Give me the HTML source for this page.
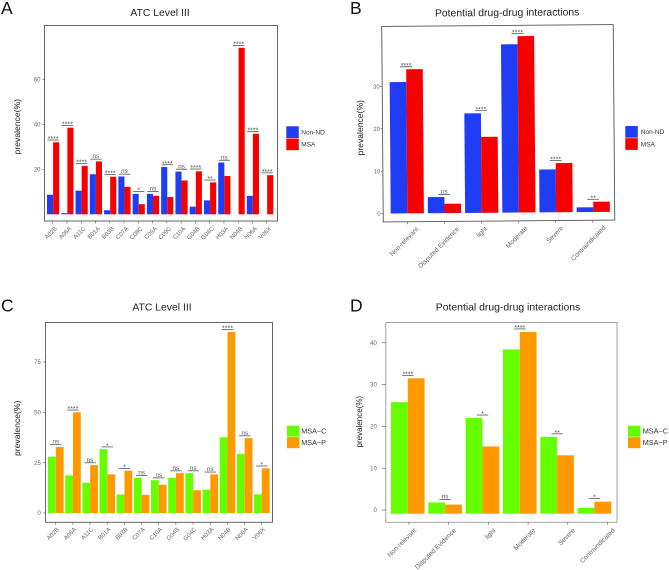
<!DOCTYPE html>
<html>
<head>
<meta charset="utf-8">
<style>
html,body{margin:0;padding:0;background:#fff;}
body{width:669px;height:570px;overflow:hidden;}
svg{display:block;font-family:"Liberation Sans",sans-serif;filter:blur(0.3px);}
</style>
</head>
<body>
<svg id="fig" width="669" height="570" viewBox="0 0 669 570" xmlns="http://www.w3.org/2000/svg"></svg>
<script>
var atcA = ['A02B','A06A','A11C','B01A','B03B','C07A','C08C','C09A','C09C','C10A','G04B','G04C','H03A','N04B','N06A','V06X'];
var nonNdA = [8.7,0.5,10.5,17.8,1.8,16.8,9.1,9.1,21,19,3.4,6.2,23,0,8.2,0];
var msaA = [32,38.5,21.5,23.5,16.7,12.2,4.5,8.2,7.7,15,19.1,14.2,17,74,35.8,17.4];
var sigA = ['****','****','****','ns','****','ns','*','ns','****','ns','****','**','ns','****','****','****'];
var ticksA = [20,40,60];

var ddiB = ['Non-relevant','Disputed Evidence','light','Moderate','Severe','Contraindicated'];
var nonNdB = [31,3.8,23.5,39.7,10.1,1.1];
var msaB = [34,2.2,17.9,41.6,11.6,2.4];
var sigB = ['****','ns','****','****','****','**'];
var ticksB = [0,10,20,30];

var atcC = ['A02B','A06A','A11C','B01A','B03B','C07A','C10A','G04B','G04C','H03A','N04B','N06A','V06X'];
var msaCC = [28,18.7,15,31.7,9.2,17.5,16.3,17.5,19.8,11.6,37.6,29.3,9.3];
var msaPC = [32.8,50,23.8,19.2,21,9,14,19.8,11.3,19.2,90,37.2,22.2];
var sigC = ['ns','****','ns','*','*','ns','ns','ns','ns','ns','****','ns','*'];
var ticksC = [0,25,50,75];

var ddiD = ['Non-relevant','Disputed Evidence','light','Moderate','Severe','Contraindicated'];
var msaCD = [25.8,1.8,22,38.4,17.5,0.5];
var msaPD = [31.5,1.3,15.2,42.6,13.1,2];
var sigD = ['****','ns','*','****','**','*'];
var ticksD = [0,10,20,30,40];

var NS = 'http://www.w3.org/2000/svg';
var fig = document.getElementById('fig');
function mk(parent, tag, attrs, text) {
  var el = document.createElementNS(NS, tag);
  for (var k in attrs) el.setAttribute(k, attrs[k]);
  if (text !== undefined) el.textContent = text;
  parent.appendChild(el);
  return el;
}

function drawPanel(cfg) {
  var g = mk(fig, 'g', cfg.tilt ? {transform: 'rotate(' + cfg.tilt + ' ' + cfg.cx + ' ' + cfg.cy + ')'} : {});
  
  

  function yScale(v) { return cfg.y0 - v * cfg.yUnit; }
  function groupX(i) { return cfg.barStart + i * cfg.barStep; }
  function tickX(i) { return cfg.tickStart + i * cfg.tickStep; }
  var base = yScale(0) + cfg.barDrop;

  var frame = mk(g, 'rect', {x: cfg.left, y: cfg.top, width: cfg.right - cfg.left, height: cfg.bottom - cfg.top, fill: 'none', stroke: cfg.frameColor, 'stroke-width': 0.9});
  
  

  cfg.cats.forEach(function (cat, i) {
    var x = groupX(i);
    var a = cfg.s1[i], b = cfg.s2[i];
    var r1 = mk(g, 'rect', {x: x, y: yScale(a), width: cfg.barW, height: Math.max(0, base - yScale(a)), fill: cfg.c1});
    
    
    var r2 = mk(g, 'rect', {x: x + cfg.barW, y: yScale(b), width: cfg.barW, height: Math.max(0, base - yScale(b)), fill: cfg.c2});
    
    

    var cx = x + cfg.barW;
    var ly = yScale(Math.max(a, b)) - cfg.sigGap;
    var ln = mk(g, 'line', {x1: cx - cfg.sigW, x2: cx + cfg.sigW, y1: ly, y2: ly, stroke: '#555', 'stroke-width': 0.8});
    
    
    var isNs = cfg.sig[i] === 'ns';
    var st = mk(g, 'text', {x: cx, y: isNs ? ly - 1 : ly + 1, 'text-anchor': 'middle', 'font-size': isNs ? 6.3 : 7, fill: '#555'}, cfg.sig[i]);
    
    

    var tx = tickX(i);
    var t = mk(g, 'line', {x1: tx, x2: tx, y1: cfg.bottom, y2: cfg.bottom + 2.5, stroke: '#555', 'stroke-width': 0.6});
    
    
    var ly2 = cfg.bottom + cfg.labelDy;
    var lb = mk(g, 'text', {x: tx, y: ly2, 'text-anchor': 'end', 'font-size': cfg.xFont, fill: cfg.labelColor}, cat);
    
    
    var lx = tx + cfg.labelDx + cfg.labelFrac * lb.getComputedTextLength();
    lb.setAttribute('x', lx);
    lb.setAttribute('transform', 'rotate(-45 ' + lx + ' ' + ly2 + ')');
  });

  cfg.ticks.forEach(function (v) {
    var y = yScale(v);
    var t = mk(g, 'line', {x1: cfg.left - cfg.yTickLen, x2: cfg.left, y1: y, y2: y, stroke: '#555', 'stroke-width': 0.6});
    
    
    var lb = mk(g, 'text', {x: cfg.left - cfg.yLabelGap, y: y + 2.1, 'text-anchor': 'end', 'font-size': 6, fill: cfg.labelColor}, String(v));
    
    
  });

  var yt = mk(g, 'text', {x: 0, y: 0, transform: 'translate(' + cfg.ytX + ' ' + cfg.ytY + ') rotate(-90)', 'text-anchor': 'middle', 'font-size': cfg.ytFont, fill: '#222'}, 'prevalence(%)');
  
  

  var title = mk(g, 'text', {x: cfg.titleX, y: cfg.titleY, 'text-anchor': 'middle', 'font-size': 10.4, fill: '#222'}, cfg.title);
  
  

  var sw1 = mk(fig, 'rect', {x: cfg.legX, y: cfg.legY, width: 12.5, height: cfg.legH, fill: cfg.c1});
  
  
  var sw2 = mk(fig, 'rect', {x: cfg.legX, y: cfg.legY + cfg.legH + 0.5, width: 12.5, height: cfg.legH, fill: cfg.c2});
  
  
  var lt1 = mk(fig, 'text', {x: cfg.legX + cfg.legTx, y: cfg.legY + cfg.legH / 2 + 2.3, 'font-size': cfg.legFont, fill: '#333'}, cfg.n1);
  
  
  var lt2 = mk(fig, 'text', {x: cfg.legX + cfg.legTx, y: cfg.legY + cfg.legH * 1.5 + 2.8, 'font-size': cfg.legFont, fill: '#333'}, cfg.n2);
  
  

  var pl = mk(fig, 'text', {x: cfg.letterX, y: cfg.letterY, 'font-size': 17.5, fill: '#111'}, cfg.letter);
  
  
}

var BLUE = '#1f3df5', RED = '#f70000', GREEN = '#66ff00', ORANGE = '#ff9900';

drawPanel({letter:'A', cats:atcA, s1:nonNdA, s2:msaA, sig:sigA, ticks:ticksA, n1:'Non-ND', n2:'MSA', c1:BLUE, c2:RED,
  left:44.5, right:277.5, top:25.5, bottom:221, y0:214.3, yUnit:2.25, barDrop:0, frameColor:'#555',
  barStart:47, barStep:14.27, barW:6.1, tickStart:52.7, tickStep:14.27, sigGap:2.3, sigW:5.7,
  labelDx:4.7, labelFrac:0, labelDy:8, xFont:6, labelColor:'#666', yTickLen:2, yLabelGap:4,
  ytX:20, ytY:126.7, ytFont:8.6, title:'ATC Level III', titleX:160, titleY:16,
  legX:286.3, legY:126.3, legH:11.7, legTx:15, legFont:6.5, letterX:1, letterY:14});

drawPanel({letter:'B', tilt:-0.45, cx:498, cy:123, cats:ddiB, s1:nonNdB, s2:msaB, sig:sigB, ticks:ticksB, n1:'Non-ND', n2:'MSA', c1:BLUE, c2:RED,
  left:382.5, right:614, top:25.5, bottom:221, y0:212.7, yUnit:4.24, barDrop:0, frameColor:'#555',
  barStart:390, barStep:37.2, barW:16.6, tickStart:406.5, tickStep:37.1, sigGap:2.5, sigW:6,
  labelDx:3.5, labelFrac:0.21, labelDy:8, xFont:6.6, labelColor:'#666', yTickLen:2, yLabelGap:2.5,
  ytX:363, ytY:126.7, ytFont:8.6, title:'Potential drug-drug interactions', titleX:508, titleY:16,
  legX:625.3, legY:126, legH:11.7, legTx:15.5, legFont:6.5, letterX:350, letterY:14});

drawPanel({letter:'C', cats:atcC, s1:msaCC, s2:msaPC, sig:sigC, ticks:ticksC, n1:'MSA\u2212C', n2:'MSA\u2212P', c1:GREEN, c2:ORANGE,
  left:45.5, right:272.5, top:322.5, bottom:522.3, y0:513, yUnit:2.013, barDrop:0, frameColor:'#555',
  barStart:48, barStep:17.17, barW:7.8, tickStart:55.7, tickStep:17.17, sigGap:2.3, sigW:5.7,
  labelDx:3.7, labelFrac:0, labelDy:7.5, xFont:6, labelColor:'#666', yTickLen:2.5, yLabelGap:4.7,
  ytX:20, ytY:428.3, ytFont:8.6, title:'ATC Level III', titleX:162, titleY:310.5,
  legX:287, legY:425.7, legH:11, legTx:14.3, legFont:7.2, letterX:1, letterY:311.5});

drawPanel({letter:'D', cats:ddiD, s1:msaCD, s2:msaPD, sig:sigD, ticks:ticksD, n1:'MSA\u2212C', n2:'MSA\u2212P', c1:GREEN, c2:ORANGE,
  left:385.8, right:617, top:322.5, bottom:522.3, y0:510, yUnit:4.18, barDrop:3.7, frameColor:'#999',
  barStart:391, barStep:37.33, barW:16.8, tickStart:409, tickStep:39.7, sigGap:3, sigW:5.7,
  labelDx:7.7, labelFrac:0, labelDy:8.5, xFont:6.6, labelColor:'#666', yTickLen:4, yLabelGap:9,
  ytX:362, ytY:421.7, ytFont:8, title:'Potential drug-drug interactions', titleX:508, titleY:310.5,
  legX:628, legY:425.7, legH:11, legTx:14.7, legFont:7.3, letterX:350, letterY:311.5});
</script>
</body>
</html>
